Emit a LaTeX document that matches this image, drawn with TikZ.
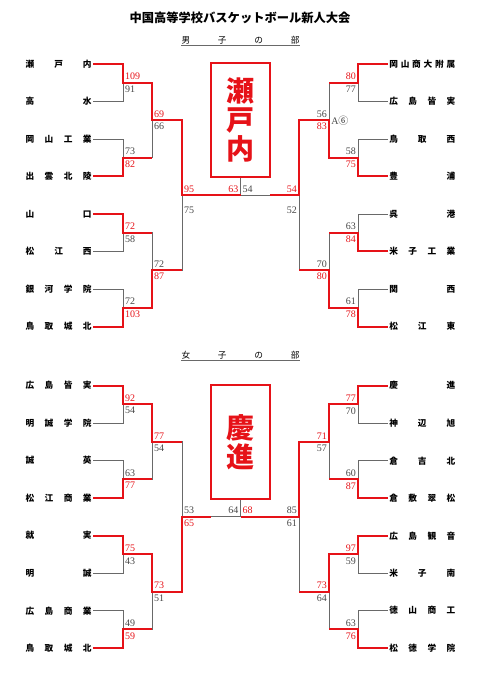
\documentclass[tikz,border=0pt]{standalone}
\usepackage{fontspec}
\setmainfont{Liberation Serif}
\newfontfamily\jpfont{Noto Sans CJK JP}
\usepackage{xcolor}
\usepackage{tikz}
\definecolor{winred}{RGB}{230,18,24}
\definecolor{linegray}{RGB}{105,105,105}
\definecolor{scoregray}{RGB}{70,70,70}

\begin{document}
\begin{tikzpicture}[
x=0.75pt, y=-0.75pt,
team/.style={
    anchor=west,
    inner sep=1pt,
    text width=49.5pt,
    font=\jpfont\bfseries\fontsize{6.5}{7}\selectfont
},
score/.style={font=\fontsize{7.5}{8}\selectfont, inner xsep=1.4pt, inner ysep=2pt},
ws/.style={score, text=winred},
ls/.style={score, text=scoregray},
win/.style={draw=winred, line width=1.5pt},
lose/.style={draw=linegray, line width=0.7pt},
champ/.style={
    draw=winred,
    line width=1.5pt,
    minimum width=44.25pt,
    minimum height=85pt,
    inner sep=0pt,
    align=center,
    text=winred,
    font=\jpfont\bfseries\fontsize{21}{22}\selectfont
},
hdr/.style={text width=88.5pt, inner xsep=0pt, inner ysep=1.2pt, font=\jpfont\fontsize{6.5}{7}\selectfont},
heading/.style={font=\jpfont\bfseries\fontsize{9.2}{11}\selectfont}
]
\useasboundingbox (0,0) rectangle (481,680);

\node[heading] (ttl) at (240,18) {中国高等学校バスケットボール新人大会};

\node[hdr] (bhdr) at (240.5,40) {男\hfill 子\hfill の\hfill 部};
\draw[linegray, line width=0.6pt] (bhdr.south west) -- (bhdr.south east);

\node[team] (bl1) at (24,64) {瀬\hfill 戸\hfill 内};
\node[team] (bl2) at (24,101.5) {高\hfill 水};
\node[team] (bl3) at (24,139) {岡\hfill 山\hfill 工\hfill 業};
\node[team] (bl4) at (24,176.5) {出\hfill 雲\hfill 北\hfill 陵};
\node[team] (bl5) at (24,214) {山\hfill 口};
\node[team] (bl6) at (24,251.5) {松\hfill 江\hfill 西};
\node[team] (bl7) at (24,289) {銀\hfill 河\hfill 学\hfill 院};
\node[team] (bl8) at (24,326.5) {鳥\hfill 取\hfill 城\hfill 北};

\node[team] (br1) at (387.7,64) {岡\hfill 山\hfill 商\hfill 大\hfill 附\hfill 属};
\node[team] (br2) at (387.7,101.5) {広\hfill 島\hfill 皆\hfill 実};
\node[team] (br3) at (387.7,139) {鳥\hfill 取\hfill 西};
\node[team] (br4) at (387.7,176.5) {豊\hfill 浦};
\node[team] (br5) at (387.7,214) {呉\hfill 港};
\node[team] (br6) at (387.7,251.5) {米\hfill 子\hfill 工\hfill 業};
\node[team] (br7) at (387.7,289) {関\hfill 西};
\node[team] (br8) at (387.7,326.5) {松\hfill 江\hfill 東};

\coordinate (blA) at (123,82.75);
\coordinate (blB) at (123,157.75);
\coordinate (blC) at (123,232.75);
\coordinate (blD) at (123,307.75);
\coordinate (blE) at (152,120.25);
\coordinate (blF) at (152,270.25);
\coordinate (blS) at (182,195.25);
\coordinate (bC) at (240.5,195.25);
\coordinate (bH) at (270,195.25);
\coordinate (brA) at (358,82.75);
\coordinate (brB) at (358,157.75);
\coordinate (brC) at (358,232.75);
\coordinate (brD) at (358,307.75);
\coordinate (brE) at (329,120.25);
\coordinate (brF) at (329,270.25);
\coordinate (brS) at (299,195.25);

\node[champ] (bbox) at (240.5,120) {瀬\\戸\\内};

\draw[lose] (bl2.east) -| (blA);
\draw[lose] (bl3.east) -| (blB);
\draw[lose] (blB) -| (blE);
\draw[lose] (bl6.east) -| (blC);
\draw[lose] (bl7.east) -| (blD);
\draw[lose] (blC) -| (blF);
\draw[lose] (blF) -| (blS);
\draw[lose] (br2.west) -| (brA);
\draw[lose] (br3.west) -| (brB);
\draw[lose] (brA) -| (brE);
\draw[lose] (br5.west) -| (brC);
\draw[lose] (br7.west) -| (brD);
\draw[lose] (brC) -| (brF);
\draw[lose] (brF) -| (brS);
\draw[lose] (bH) -- (bC);
\draw[lose] (bC) -- (bbox.south);

\draw[win] (bl1.east) -| (blA) -| (blE) -| (blS) -- (bC);
\draw[win] (bl4.east) -| (blB) -- (blB -| blE);
\draw[win] (bl5.east) -| (blC) -- (blC -| blF);
\draw[win] (bl8.east) -| (blD) -| (blF) -- (blF -| blS);
\draw[win] (br4.west) -| (brB) -| (brE) -| (brS) -- (bH);
\draw[win] (br1.west) -| (brA) -- (brA -| brE);
\draw[win] (br6.west) -| (brC) -- (brC -| brF);
\draw[win] (br8.west) -| (brD) -| (brF) -- (brF -| brS);

\node[ws, above right] (s1) at (blA) {109};
\node[ls, below right] (s2) at (blA) {91};
\node[ls, above right] (s3) at (blB) {73};
\node[ws, below right] (s4) at (blB) {82};
\node[ws, above right] (s5) at (blC) {72};
\node[ls, below right] (s6) at (blC) {58};
\node[ls, above right] (s7) at (blD) {72};
\node[ws, below right] (s8) at (blD) {103};
\node[ws, above right] (s9) at (blE) {69};
\node[ls, below right] (s10) at (blE) {66};
\node[ls, above right] (s11) at (blF) {72};
\node[ws, below right] (s12) at (blF) {87};
\node[ws, above right] (s13) at (blS) {95};
\node[ls, below right, yshift=-6.5pt] (s14) at (blS) {75};
\node[ws, above left] (s15) at (bC) {63};
\node[ls, above right] (s16) at (bC) {54};
\node[ws, above left] (s17) at (brA) {80};
\node[ls, below left] (s18) at (brA) {77};
\node[ls, above left] (s19) at (brB) {58};
\node[ws, below left] (s20) at (brB) {75};
\node[ls, above left] (s21) at (brE) {56};
\node[ws, below left] (s22) at (brE) {83};
\node[ls, right, inner xsep=1.5pt] (s23) at (brE) {A{\jpfont ⑥}};
\node[ls, above left] (s24) at (brC) {63};
\node[ws, below left] (s25) at (brC) {84};
\node[ls, above left] (s26) at (brD) {61};
\node[ws, below left] (s27) at (brD) {78};
\node[ls, above left] (s28) at (brF) {70};
\node[ws, below left] (s29) at (brF) {80};
\node[ws, above left] (s30) at (brS) {54};
\node[ls, below left, yshift=-6.5pt] (s31) at (brS) {52};

\node[hdr] (ghdr) at (240.5,355) {女\hfill 子\hfill の\hfill 部};
\draw[linegray, line width=0.6pt] (ghdr.south west) -- (ghdr.south east);

\node[team] (gl1) at (24,385.7) {広\hfill 島\hfill 皆\hfill 実};
\node[team] (gl2) at (24,423.2) {明\hfill 誠\hfill 学\hfill 院};
\node[team] (gl3) at (24,460.7) {誠\hfill 英};
\node[team] (gl4) at (24,498.2) {松\hfill 江\hfill 商\hfill 業};
\node[team] (gl5) at (24,535.7) {就\hfill 実};
\node[team] (gl6) at (24,573.2) {明\hfill 誠};
\node[team] (gl7) at (24,610.7) {広\hfill 島\hfill 商\hfill 業};
\node[team] (gl8) at (24,648.2) {鳥\hfill 取\hfill 城\hfill 北};

\node[team] (gr1) at (387.7,385.7) {慶\hfill 進};
\node[team] (gr2) at (387.7,423.2) {神\hfill 辺\hfill 旭};
\node[team] (gr3) at (387.7,460.7) {倉\hfill 吉\hfill 北};
\node[team] (gr4) at (387.7,498.2) {倉\hfill 敷\hfill 翠\hfill 松};
\node[team] (gr5) at (387.7,535.7) {広\hfill 島\hfill 観\hfill 音};
\node[team] (gr6) at (387.7,573.2) {米\hfill 子\hfill 南};
\node[team] (gr7) at (387.7,610.7) {徳\hfill 山\hfill 商\hfill 工};
\node[team] (gr8) at (387.7,648.2) {松\hfill 徳\hfill 学\hfill 院};

\coordinate (glA) at (123,404.45);
\coordinate (glB) at (123,479.45);
\coordinate (glC) at (123,554.45);
\coordinate (glD) at (123,629.45);
\coordinate (glE) at (152,441.95);
\coordinate (glF) at (152,591.95);
\coordinate (glS) at (182,516.95);
\coordinate (gC) at (240.5,516.95);
\coordinate (gH) at (211,516.95);
\coordinate (grA) at (358,404.45);
\coordinate (grB) at (358,479.45);
\coordinate (grC) at (358,554.45);
\coordinate (grD) at (358,629.45);
\coordinate (grE) at (329,441.95);
\coordinate (grF) at (329,591.95);
\coordinate (grS) at (299,516.95);

\node[champ] (gbox) at (240.5,442) {慶\\進};

\draw[lose] (gl2.east) -| (glA);
\draw[lose] (gl3.east) -| (glB);
\draw[lose] (glB) -| (glE);
\draw[lose] (glE) -| (glS);
\draw[lose] (gl6.east) -| (glC);
\draw[lose] (gl7.east) -| (glD);
\draw[lose] (glD) -| (glF);
\draw[lose] (gr2.west) -| (grA);
\draw[lose] (gr3.west) -| (grB);
\draw[lose] (grB) -| (grE);
\draw[lose] (gr6.west) -| (grC);
\draw[lose] (gr7.west) -| (grD);
\draw[lose] (grD) -| (grF);
\draw[lose] (grF) -| (grS);
\draw[lose] (gH) -- (gC);
\draw[lose] (gC) -- (gbox.south);

\draw[win] (gl1.east) -| (glA) -| (glE) -- (glE -| glS);
\draw[win] (gl4.east) -| (glB) -- (glB -| glE);
\draw[win] (gl5.east) -| (glC) -| (glF) -| (glS) -- (gH);
\draw[win] (gl8.east) -| (glD) -- (glD -| glF);
\draw[win] (gr1.west) -| (grA) -| (grE) -| (grS) -- (gC);
\draw[win] (gr4.west) -| (grB) -- (grB -| grE);
\draw[win] (gr5.west) -| (grC) -| (grF) -- (grF -| grS);
\draw[win] (gr8.west) -| (grD) -- (grD -| grF);

\node[ws, above right] (t1) at (glA) {92};
\node[ls, below right] (t2) at (glA) {54};
\node[ls, above right] (t3) at (glB) {63};
\node[ws, below right] (t4) at (glB) {77};
\node[ws, above right] (t5) at (glE) {77};
\node[ls, below right] (t6) at (glE) {54};
\node[ws, above right] (t7) at (glC) {75};
\node[ls, below right] (t8) at (glC) {43};
\node[ls, above right] (t9) at (glD) {49};
\node[ws, below right] (t10) at (glD) {59};
\node[ws, above right] (t11) at (glF) {73};
\node[ls, below right] (t12) at (glF) {51};
\node[ls, above right] (t13) at (glS) {53};
\node[ws, below right] (t14) at (glS) {65};
\node[ls, above left] (t15) at (gC) {64};
\node[ws, above right] (t16) at (gC) {68};
\node[ws, above left] (t17) at (grA) {77};
\node[ls, below left] (t18) at (grA) {70};
\node[ls, above left] (t19) at (grB) {60};
\node[ws, below left] (t20) at (grB) {87};
\node[ws, above left] (t21) at (grE) {71};
\node[ls, below left] (t22) at (grE) {57};
\node[ws, above left] (t23) at (grC) {97};
\node[ls, below left] (t24) at (grC) {59};
\node[ls, above left] (t25) at (grD) {63};
\node[ws, below left] (t26) at (grD) {76};
\node[ws, above left] (t27) at (grF) {73};
\node[ls, below left] (t28) at (grF) {64};
\node[ls, above left] (t29) at (grS) {85};
\node[ls, below left] (t30) at (grS) {61};

\end{tikzpicture}
\end{document}
